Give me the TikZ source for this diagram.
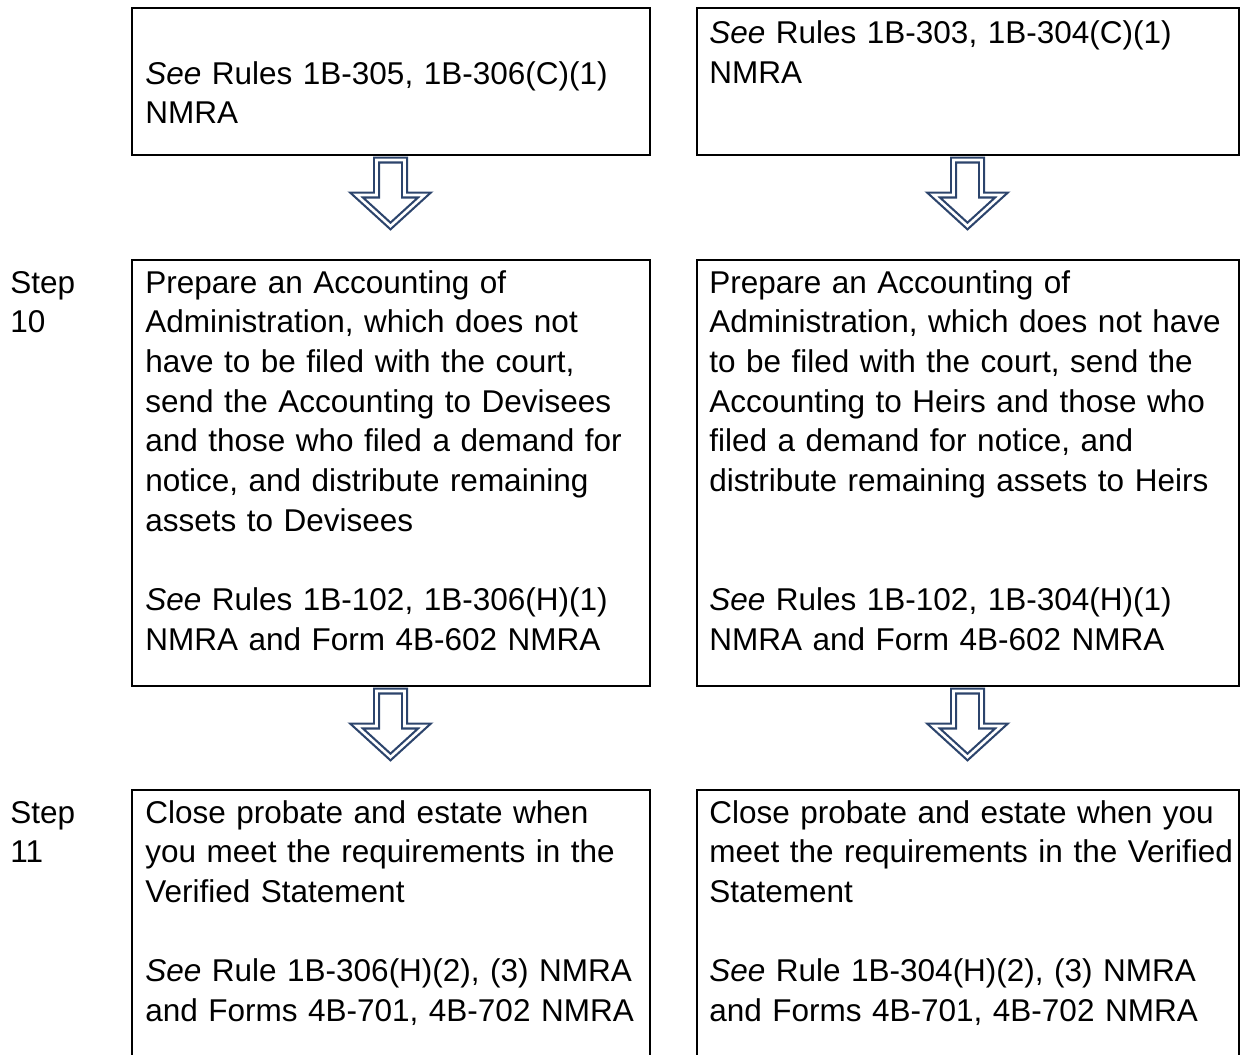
\documentclass[tikz,border=0pt]{standalone}
\usepackage{fontspec}
\setmainfont{Liberation Sans}
\definecolor{arrowblue}{RGB}{44,68,108}

\begin{document}
\begin{tikzpicture}[%
x=0.5pt, y=-0.5pt,
box/.style={draw, line width=1pt, anchor=north west, inner sep=0pt, outer sep=0pt},
txt/.style={anchor=base west, align=left, text width=265pt, inner sep=0pt,
  font=\fontsize{15.75}{19.85}\selectfont},
steplbl/.style={txt, text width=40pt},
hollowarrow/.style={draw=arrowblue, line width=1.1pt, double=white,
  double distance=1.3pt, line join=miter},
]
\clip (0,0) rectangle (1244,1055);
%% boxes;
\node[box, minimum width=259pt, minimum height=73.75pt] (toplft) at (131.5,7.5) {};
\node[box, minimum width=271pt, minimum height=73.75pt] (toprgt) at (696.5,7.5) {};
\node[box, minimum width=259pt, minimum height=213pt] (acctlft) at (131.5,260) {};
\node[box, minimum width=271pt, minimum height=213pt] (acctrgt) at (696.5,260) {};
\node[box, minimum width=259pt, minimum height=150pt] (closelft) at (131.5,790) {};
\node[box, minimum width=271pt, minimum height=150pt] (closergt) at (696.5,790) {};
%% labels;
\node[txt] (toplfttxt) at (145,84) {\textit{See} Rules 1B-305, 1B-306(C)(1)\\NMRA};
\node[txt] (toprgttxt) at (709,43.5) {\textit{See} Rules 1B-303, 1B-304(C)(1)\\NMRA};
\node[steplbl] (step10) at (10,293) {Step\\10};
\node[txt] (acctlfttxt) at (145,293) {Prepare an Accounting of\\
Administration, which does not\\
have to be filed with the court,\\
send the Accounting to Devisees\\
and those who filed a demand for\\
notice, and distribute remaining\\
assets to Devisees\\[19.85pt]
\textit{See} Rules 1B-102, 1B-306(H)(1)\\
NMRA and Form 4B-602 NMRA};
\node[txt] (acctrgttxt) at (709,293) {Prepare an Accounting of\\
Administration, which does not have\\
to be filed with the court, send the\\
Accounting to Heirs and those who\\
filed a demand for notice, and\\
distribute remaining assets to Heirs\\[39.7pt]
\textit{See} Rules 1B-102, 1B-304(H)(1)\\
NMRA and Form 4B-602 NMRA};
\node[steplbl] (step11) at (10,823) {Step\\11};
\node[txt] (closelfttxt) at (145,823) {Close probate and estate when\\
you meet the requirements in the\\
Verified Statement\\[19.85pt]
\textit{See} Rule 1B-306(H)(2), (3) NMRA\\
and Forms 4B-701, 4B-702 NMRA};
\node[txt] (closergttxt) at (709,823) {Close probate and estate when you\\
meet the requirements in the Verified\\
Statement\\[19.85pt]
\textit{See} Rule 1B-304(H)(2), (3) NMRA\\
and Forms 4B-701, 4B-702 NMRA};
%% arrows;
\draw[hollowarrow] ([yshift=-2.5pt]toplft.south) ++(-14,0) -- ++(28,0) -- ++(0,35) -- ++(20,0) -- ++(-34,31) -- ++(-34,-31) -- ++(20,0) -- cycle;
\draw[hollowarrow] ([yshift=-2.5pt]toprgt.south) ++(-14,0) -- ++(28,0) -- ++(0,35) -- ++(20,0) -- ++(-34,31) -- ++(-34,-31) -- ++(20,0) -- cycle;
\draw[hollowarrow] ([yshift=-2.5pt]acctlft.south) ++(-14,0) -- ++(28,0) -- ++(0,35) -- ++(20,0) -- ++(-34,31) -- ++(-34,-31) -- ++(20,0) -- cycle;
\draw[hollowarrow] ([yshift=-2.5pt]acctrgt.south) ++(-14,0) -- ++(28,0) -- ++(0,35) -- ++(20,0) -- ++(-34,31) -- ++(-34,-31) -- ++(20,0) -- cycle;
\end{tikzpicture}
\end{document}
